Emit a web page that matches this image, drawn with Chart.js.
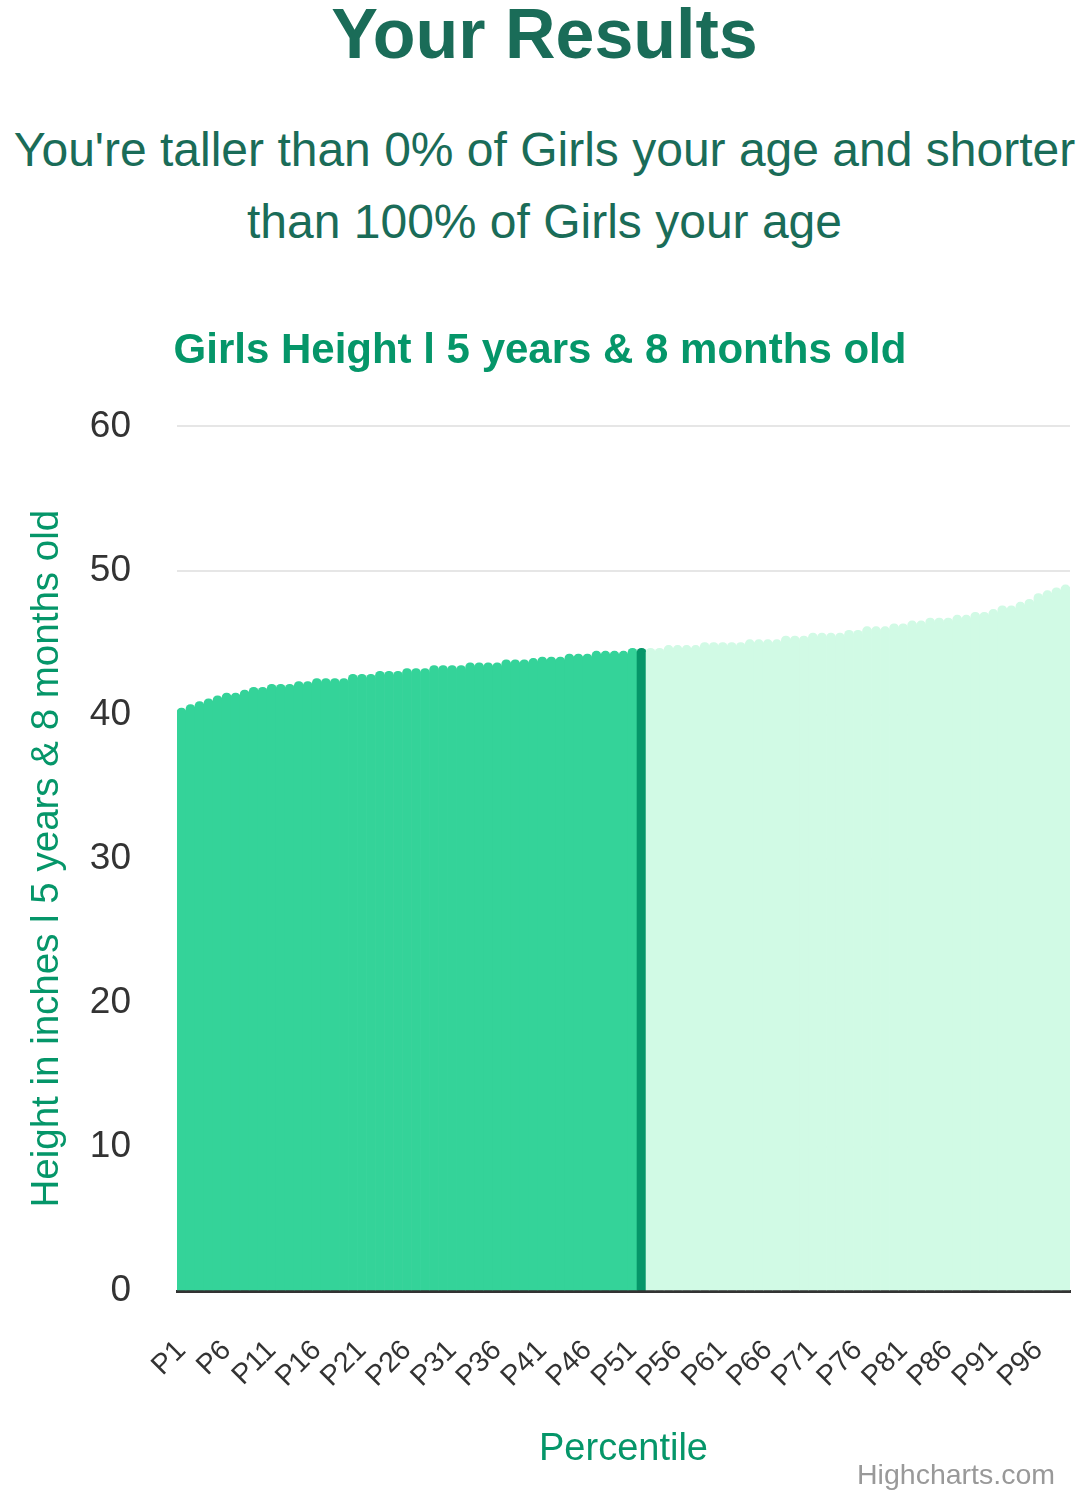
<!DOCTYPE html>
<html>
<head>
<meta charset="utf-8">
<script src="https://cdn.jsdelivr.net/npm/chart.js@4.4.1/dist/chart.umd.min.js"></script>
<style>
  html, body { margin: 0; padding: 0; background: #ffffff; }
  body { width: 1089px; height: 1500px; position: relative; overflow: hidden; font-family: "Liberation Sans", Arial, Helvetica, sans-serif; }
  #head { position: absolute; left: 0; top: -1px; width: 1089px; text-align: center; font-weight: bold; font-size: 70px; line-height: 70px; color: #1a6c58; }
  #sub { position: absolute; left: 0; top: 114px; width: 1089px; text-align: center; font-size: 48px; line-height: 72px; color: #1a6c58; }
  #wrap { position: absolute; left: 0; top: 300px; width: 1089px; height: 1200px; }
  #credit { position: absolute; right: 34px; top: 1457px; font-size: 28.5px; line-height: 34px; color: #999999; }
</style>
</head>
<body>
<div id="head">Your Results</div>
<div id="sub">You're taller than 0% of Girls your age and shorter<br>than 100% of Girls your age</div>
<div id="wrap"><canvas id="c"></canvas></div>
<div id="credit">Highcharts.com</div>
<script>
// ---- data ----
const categories = ["P1","P2","P3","P4","P5","P6","P7","P8","P9","P10","P11","P12","P13","P14","P15","P16","P17","P18","P19","P20","P21","P22","P23","P24","P25","P26","P27","P28","P29","P30","P31","P32","P33","P34","P35","P36","P37","P38","P39","P40","P41","P42","P43","P44","P45","P46","P47","P48","P49","P50","P51","P52","P53","P54","P55","P56","P57","P58","P59","P60","P61","P62","P63","P64","P65","P66","P67","P68","P69","P70","P71","P72","P73","P74","P75","P76","P77","P78","P79","P80","P81","P82","P83","P84","P85","P86","P87","P88","P89","P90","P91","P92","P93","P94","P95","P96","P97","P98","P99"];
const heights = [
  40.45, 40.7, 40.9, 41.1, 41.3, 41.5, 41.5, 41.7, 41.9, 41.9,
  42.1, 42.1, 42.1, 42.3, 42.3, 42.5, 42.5, 42.5, 42.5, 42.8,
  42.8, 42.8, 43.0, 43.0, 43.0, 43.2, 43.2, 43.2, 43.4, 43.4,
  43.4, 43.4, 43.6, 43.6, 43.6, 43.6, 43.8, 43.8, 43.8, 43.9,
  44.0, 44.0, 44.0, 44.2, 44.2, 44.2, 44.4, 44.4, 44.4, 44.4,
  44.6, 44.6, 44.6, 44.6, 44.8, 44.8, 44.8, 44.8, 45.0, 45.0,
  45.0, 45.0, 45.0, 45.2, 45.2, 45.2, 45.2, 45.45, 45.45, 45.45,
  45.65, 45.65, 45.65, 45.65, 45.85, 45.85, 46.1, 46.1, 46.1, 46.3,
  46.3, 46.5, 46.5, 46.7, 46.7, 46.7, 46.9, 46.9, 47.1, 47.1,
  47.3, 47.55, 47.55, 47.8, 48.0, 48.4, 48.6, 48.8, 49.0
];
const userCategory = "P52";
const yTicks = [0, 10, 20, 30, 40, 50, 60];
const chartTitle = "Girls Height l 5 years & 8 months old";
const yTitle = "Height in inches l 5 years & 8 months old";
const xTitle = "Percentile";

// ---- styles ----
const BELOW = "#34d399", USER = "#059669", ABOVE = "#d1fae5";
const userIdx = categories.indexOf(userCategory);
const colors = categories.map((c, i) => i < userIdx ? BELOW : (i === userIdx ? USER : ABOVE));
const FONT = "'Liberation Sans', Arial, Helvetica, sans-serif";

new Chart(document.getElementById('c'), {
  type: 'bar',
  data: {
    labels: categories,
    datasets: [{
      data: heights,
      backgroundColor: colors,
      hoverBackgroundColor: colors,
      borderWidth: 0,
      borderRadius: 5,
      borderSkipped: 'start',
      barPercentage: 1.0,
      categoryPercentage: 1.0
    }]
  },
  options: {
    responsive: true,
    maintainAspectRatio: false,
    animation: false,
    events: [],
    layout: { padding: { left: 10, right: 19, top: 0, bottom: 10 } },
    plugins: {
      legend: { display: false },
      tooltip: { enabled: false },
      title: {
        display: true,
        text: chartTitle,
        color: USER,
        font: { family: FONT, size: 42, weight: 'bold', lineHeight: 1.2 },
        padding: { top: 26, bottom: 50 }
      }
    },
    scales: {
      x: {
        grid: { display: false, drawTicks: false },
        border: { display: true, color: '#333333', width: 3 },
        afterFit: function (axis) { axis.height = 199; axis.paddingLeft = 0; axis.paddingRight = 0; },
        ticks: {
          autoSkip: false,
          minRotation: 45,
          maxRotation: 45,
          padding: 43,
          color: '#333333',
          font: { family: FONT, size: 28.5 },
          callback: function (v, i) { return i % 5 === 0 ? categories[i] : ''; }
        },
        title: {
          display: true,
          text: xTitle,
          color: USER,
          font: { family: FONT, size: 38, lineHeight: 1.2 },
          padding: { top: 50, bottom: 18 }
        }
      },
      y: {
        min: 0,
        max: 60,
        afterBuildTicks: function (axis) { axis.ticks = yTicks.map(v => ({ value: v })); },
        afterFit: function (axis) { axis.width = 167; },
        grid: { color: '#e6e6e6', lineWidth: 2, drawTicks: false },
        border: { display: false },
        ticks: {
          padding: 46,
          color: '#333333',
          font: { family: FONT, size: 37 }
        },
        title: {
          display: true,
          text: yTitle,
          color: USER,
          font: { family: FONT, size: 38.5, lineHeight: 1.2 },
          padding: { top: 14, bottom: 21 }
        }
      }
    }
  }
});
</script>
</body>
</html>
